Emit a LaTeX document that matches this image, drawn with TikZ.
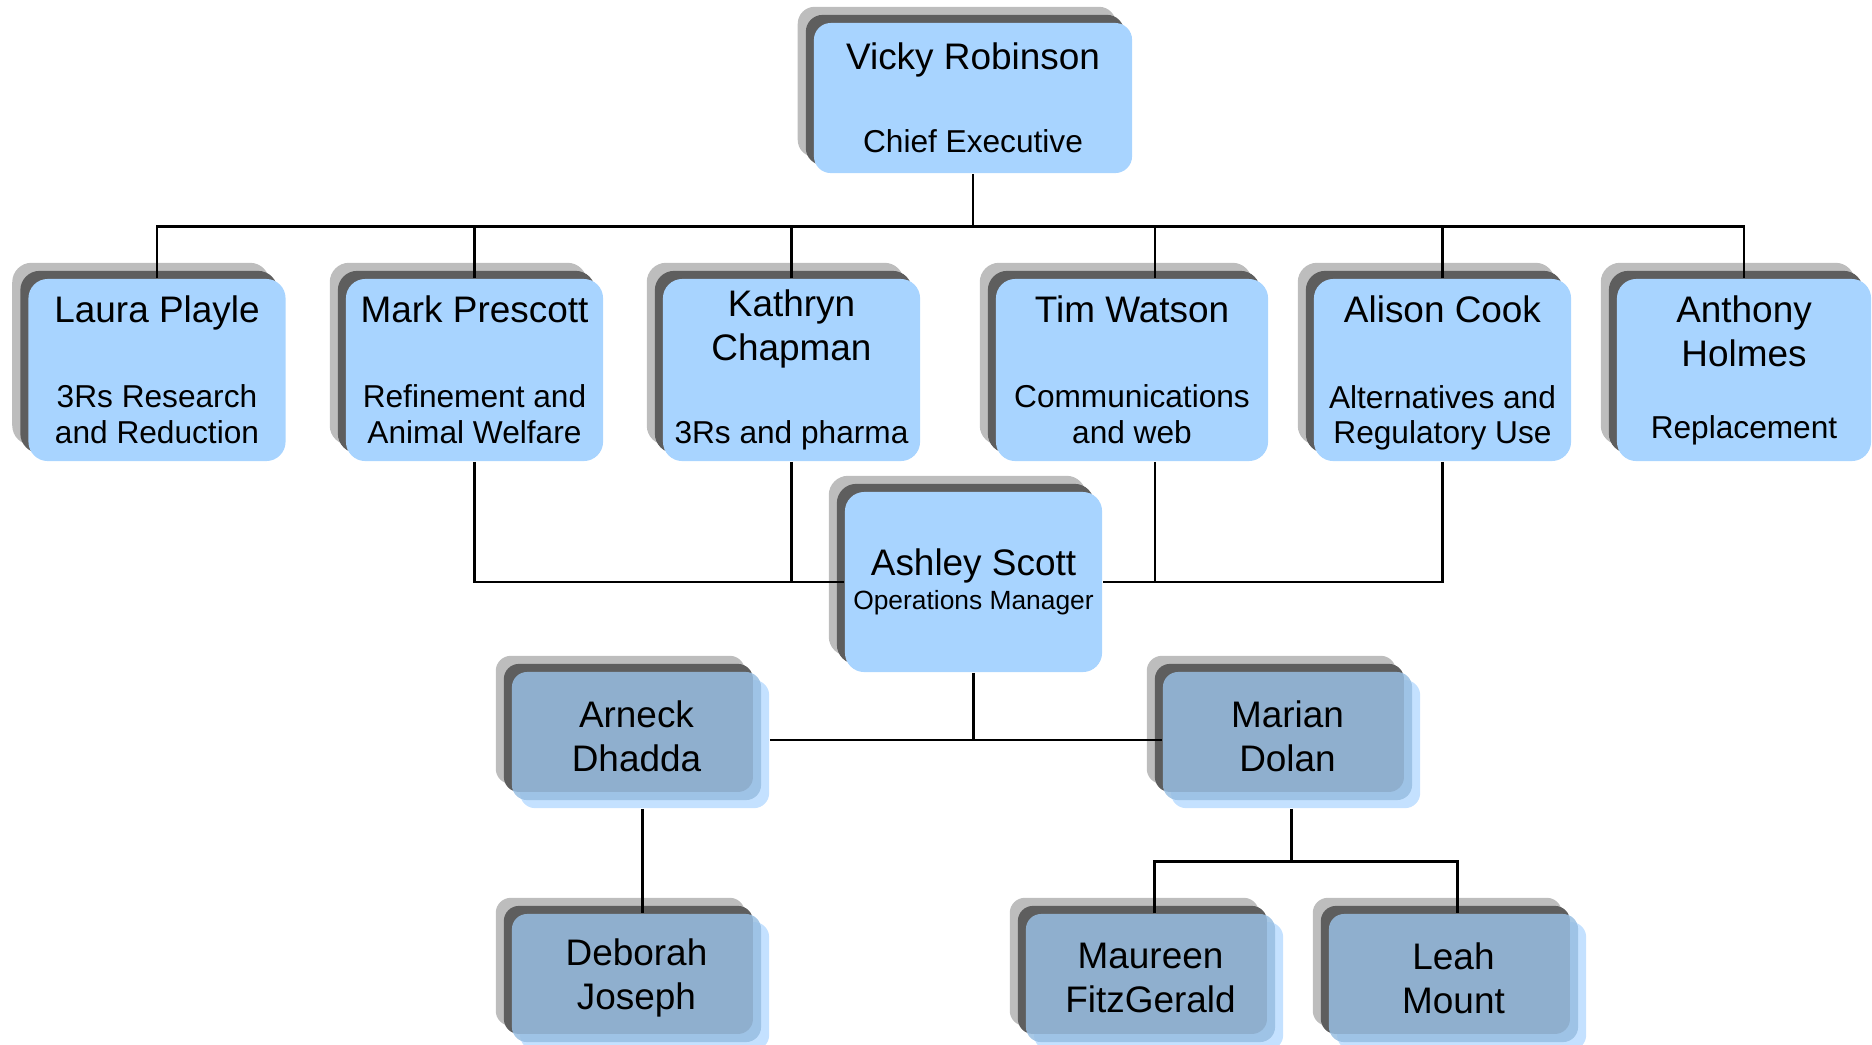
\documentclass[tikz,border=0pt]{standalone}
\usepackage{fontspec}
\setmainfont{Liberation Sans}
\usetikzlibrary{positioning,shadows}
\definecolor{headblue}{HTML}{A8D4FF}
\definecolor{staffblue}{HTML}{98BEE2}
\definecolor{backblue}{HTML}{C4E1FF}
\definecolor{shadelight}{HTML}{BDBDBD}
\definecolor{shadedark}{HTML}{5E5E5E}
\newcommand\namef{\fontsize{10.5pt}{12.5pt}\selectfont}
\newcommand\postf{\fontsize{9pt}{12.5pt}\selectfont}
\newcommand\smallpostf{\fontsize{7.5pt}{12.5pt}\selectfont}
\newcommand\nodepth[1]{\raisebox{0pt}[\height][0pt]{#1}}
\tikzset{
  wire/.style={line width=.75pt},
  twoshade/.style={
    general shadow={fill=shadelight, fill opacity=1, shadow xshift=-4.6pt, shadow yshift=4.6pt},
    general shadow={fill=shadedark, fill opacity=1, shadow xshift=-2.3pt, shadow yshift=2.3pt}},
  headbox/.style={twoshade, rectangle, rounded corners=5.5pt, fill=headblue,
    inner sep=0pt, align=center, font=\namef, minimum width=2.57cm, minimum height=1.82cm},
  staffbox/.style={
    general shadow={fill=backblue, fill opacity=1, shadow xshift=2.3pt, shadow yshift=-2.3pt},
    twoshade, rectangle, rounded corners=4.3pt, fill=staffblue, fill opacity=.85,
    text opacity=1, inner sep=0pt, align=center, font=\namef,
    minimum width=2.49cm, minimum height=1.28cm}
}

\begin{document}
\begin{tikzpicture}[x=0.01cm, y=-0.01cm]
    \useasboundingbox (0,0) rectangle (1872,1044);

    % Руководитель
    \node[headbox, minimum width=3.18cm, minimum height=1.5cm, rounded corners=4.8pt] (vicky) at (973,98)
        {Vicky Robinson\\[11.1pt]\postf Chief Executive};

    % Второй уровень
    \node[headbox] (laura) at (157,370)
        {Laura Playle\\[11.7pt]\postf 3Rs Research\\[-2.3pt]\postf and Reduction};
    \node[headbox] (mark) at (474.5,370)
        {Mark Prescott\\[11.7pt]\postf Refinement and\\[-2.3pt]\postf Animal Welfare};
    \node[headbox] (kathryn) at (791.5,370)
        {Kathryn\\Chapman\\[11.1pt]\postf 3Rs and pharma};
    \node[headbox, minimum width=2.72cm] (tim) at (1132,370)
        {Tim Watson\\[11.7pt]\postf Communications\\[-2.3pt]\postf and web};
    \node[headbox] (alison) at (1442.5,370)
        {Alison Cook\\[11.7pt]\postf Alternatives and\\[-2.3pt]\postf \nodepth{Regulatory Use}};
    \node[headbox, minimum width=2.54cm] (anthony) at (1744,370)
        {Anthony\\Holmes\\[8pt]\postf Replacement};

    % Операционный отдел
    \node[headbox, minimum height=1.8cm] (ashley) at (973.5,582)
        {Ashley Scott\\[-2.8pt]\smallpostf Operations Manager};
    \node[staffbox] (arneck) at (636.5,736) {Arneck\\Dhadda};
    \node[staffbox] (marian) at (1287.5,736) {Marian\\Dolan};
    \node[staffbox] (deborah) at (636.5,978) {Deborah\\Joseph};
    \node[staffbox] (maureen) at (1150.5,978) {Maureen\\FitzGerald};
    \node[staffbox] (leah) at (1453.5,978) {Leah\\Mount};

    % Верхние связи
    \draw[wire] (vicky.south) -- ++(0,53) coordinate (topbus);
    \draw[wire] (laura.north) |- (topbus) -| (anthony.north);
    \draw[wire]
        (mark.north) -- (mark.north |- topbus)
        (kathryn.north) -- (kathryn.north |- topbus)
        ([shift={(23,0)}]tim.north) -- ++(0,-53)
        (alison.north) -- (alison.north |- topbus);

    % Связи к Ashley Scott
    \draw[wire] (mark.south) |- (ashley.west);
    \draw[wire] (kathryn.south) -- (kathryn.south |- ashley.west);
    \draw[wire] ([shift={(23,0)}]tim.south) -- ++(0,121);
    \draw[wire] (alison.south) |- (ashley.east);

    % Нижние связи
    \coordinate (lowbus) at ([shift={(8,4)}]arneck.east);
    \draw[wire] (lowbus) -- (lowbus -| marian.west);
    \draw[wire] (ashley.south) -- (ashley.south |- lowbus);
    \draw[wire] ([shift={(6,8)}]arneck.south) -- ([shift={(6,0)}]deborah.north);
    \draw[wire] ([shift={(4,8)}]marian.south) -- ++(0,53) coordinate (marbus);
    \draw[wire] ([shift={(4,0)}]maureen.north) |- (marbus) -| ([shift={(4,0)}]leah.north);
\end{tikzpicture}
\end{document}
